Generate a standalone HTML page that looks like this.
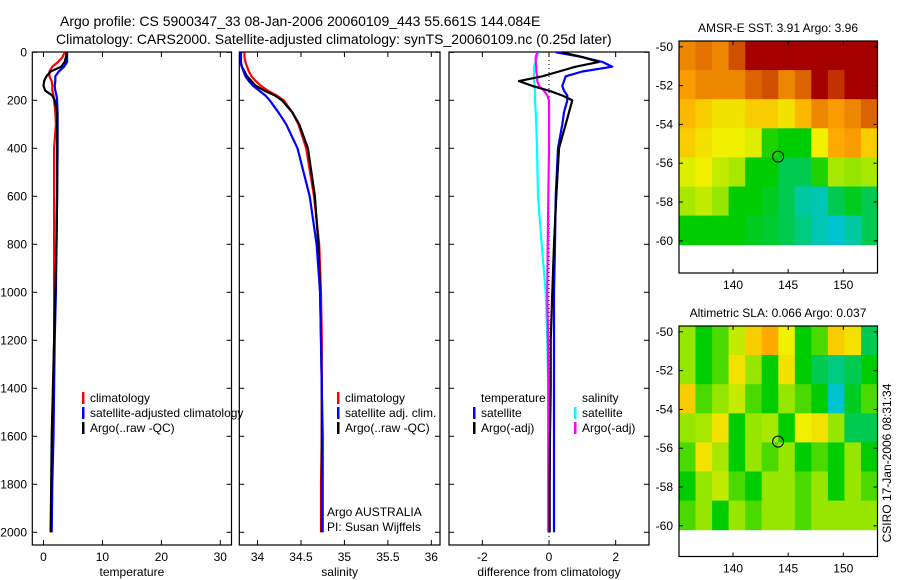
<!DOCTYPE html>
<html><head><meta charset="utf-8">
<style>
body{margin:0;background:#fff;}
svg{display:block;font-family:"Liberation Sans",sans-serif;}
text{fill:#000;}
</style></head>
<body>
<svg id="fig" width="900" height="580" viewBox="0 0 900 580" xmlns="http://www.w3.org/2000/svg">
<text x="60" y="26" font-size="14">Argo profile: CS 5900347_33 08-Jan-2006 20060109_443 55.661S 144.084E</text>
<text x="56" y="44" font-size="14">Climatology: CARS2000. Satellite-adjusted climatology: synTS_20060109.nc (0.25d later)</text>
<g id="layer"></g>
</svg>
<script>
const depths=[0,20,40,60,80,100,120,140,160,180,200,250,300,400,600,800,1000,1200,1400,1600,1800,2000];
const tempClim=[3.6,3.2,2.5,1.5,1.0,1.0,1.4,1.5,1.5,1.7,1.8,2.0,2.1,1.8,1.8,1.8,1.8,1.8,1.7,1.5,1.4,1.3];
const tempSat=[4.0,4.0,4.0,3.5,2.6,2.0,2.0,1.9,2.0,2.2,2.3,2.4,2.4,2.4,2.3,2.2,2.1,1.9,1.8,1.7,1.5,1.4];
const tempArgo=[3.9,3.8,3.6,3.0,1.2,0.5,0.1,0.0,0.3,1.5,1.9,2.3,2.3,2.3,2.3,2.2,2.0,1.8,1.6,1.4,1.3,1.2];
const salClim=[33.85,33.85,33.86,33.88,33.9,33.93,33.98,34.04,34.12,34.22,34.3,34.4,34.47,34.56,34.65,34.71,34.73,34.74,34.74,34.74,34.73,34.73];
const salSat=[33.81,33.81,33.81,33.82,33.84,33.86,33.9,33.95,34.02,34.09,34.14,34.24,34.33,34.46,34.6,34.68,34.72,34.73,34.74,34.75,34.75,34.75];
const salArgo=[33.8,33.8,33.8,33.82,33.85,33.88,33.93,33.98,34.08,34.2,34.28,34.4,34.48,34.58,34.66,34.7,34.72,34.73,34.74,34.74,34.74,34.74];
const diffTSat=[0.2,1.0,1.6,1.9,1.0,0.5,0.45,0.4,0.45,0.55,0.55,0.45,0.4,0.27,0.2,0.18,0.15,0.15,0.15,0.15,0.15,0.15];
const diffTArgo=[0.4,1.0,1.5,0.8,0.3,-0.2,-0.9,-0.5,0,0.4,0.7,0.6,0.5,0.3,0.22,0.15,0.1,0.05,0.05,0.03,0.02,0.02];
const diffSSat=[-0.33,-0.35,-0.4,-0.45,-0.45,-0.45,-0.45,-0.43,-0.42,-0.42,-0.42,-0.4,-0.38,-0.36,-0.33,-0.22,-0.1,-0.05,-0.02,-0.02,-0.02,-0.02];
const diffSArgo=[-0.35,-0.4,-0.4,-0.38,-0.38,-0.35,-0.35,-0.3,-0.15,-0.05,0,0,0,0,-0.02,-0.04,-0.05,-0.03,-0.02,-0.02,-0.02,-0.02];
const depthTicks=[0,200,400,600,800,1000,1200,1400,1600,1800,2000];
const tempTicks=[0,10,20,30];
const salTicks=[34,34.5,35,35.5,36];
const diffTicks=[-2,0,2];
const lonTicks=[140,145,150];
const latTicks=[-50,-52,-54,-56,-58,-60];
const sstGrid=[
[0.85,0.88,0.85,0.92,1,1,1,1,1,1,1,1],
[0.82,0.85,0.85,0.85,0.9,0.92,0.85,0.9,1,0.95,1,1],
[0.78,0.75,0.72,0.72,0.75,0.75,0.72,0.78,0.85,0.82,0.85,0.9],
[0.75,0.72,0.7,0.7,0.68,0.52,0.5,0.5,0.7,0.8,0.82,0.75],
[0.68,0.7,0.65,0.62,0.5,0.5,0.45,0.45,0.52,0.62,0.6,0.62],
[0.62,0.65,0.6,0.5,0.5,0.48,0.45,0.4,0.38,0.45,0.48,0.45],
[0.5,0.5,0.5,0.5,0.48,0.47,0.45,0.42,0.38,0.35,0.4,0.45]];
const slaGrid=[
[0.6,0.5,0.55,0.65,0.75,0.8,0.7,0.5,0.55,0.75,0.72,0.45],
[0.6,0.5,0.55,0.72,0.6,0.5,0.72,0.5,0.45,0.42,0.45,0.5],
[0.75,0.55,0.6,0.65,0.55,0.5,0.6,0.55,0.5,0.35,0.48,0.55],
[0.6,0.62,0.72,0.5,0.6,0.62,0.5,0.7,0.72,0.6,0.45,0.45],
[0.55,0.72,0.62,0.5,0.6,0.55,0.6,0.5,0.55,0.5,0.6,0.5],
[0.5,0.6,0.65,0.55,0.5,0.6,0.6,0.55,0.6,0.5,0.6,0.55],
[0.55,0.6,0.5,0.6,0.55,0.6,0.6,0.55,0.6,0.6,0.6,0.6]];
const argoLon=144.084, argoLat=-55.661;

const NS="http://www.w3.org/2000/svg";
const L=document.getElementById('layer');
function mk(tag,attrs,parent){const e=document.createElementNS(NS,tag);for(const k in attrs)e.setAttribute(k,attrs[k]);(parent||L).appendChild(e);return e;}
function txt(x,y,s,size,anchor,parent){const t=mk('text',{x:x,y:y,'font-size':size||12,'text-anchor':anchor||'start'},parent);t.textContent=s;return t;}

const yTop=52.3, yPer=0.24;
function yD(d){return yTop+d*yPer;}
const panels=[
 {name:'temperature',x0:32.3,x1:231.5,v0:-1.9,v1:31.9,ticks:tempTicks,label:'temperature'},
 {name:'salinity',x0:239.3,x1:440,v0:33.79,v1:36.1,ticks:salTicks,label:'salinity'},
 {name:'difference',x0:449,x1:649,v0:-3,v1:3,ticks:diffTicks,label:'difference from climatology'}];
const boxTop=52, boxBot=545;
function xf(p){return v=>p.x0+(v-p.v0)/(p.v1-p.v0)*(p.x1-p.x0);}

function profile(p,vals,color,name,g){
  const X=xf(p);
  const pts=depths.map((d,i)=>X(vals[i]).toFixed(1)+','+yD(d).toFixed(1));
  const pl=mk('polyline',{points:pts.join(' '),fill:'none',stroke:color,'stroke-width':2.2,'stroke-linejoin':'round'},g);
  
  
}

panels.forEach((p,pi)=>{
  const g=mk('g',{});
  
  
  const X=xf(p);
  mk('rect',{x:p.x0,y:boxTop,width:p.x1-p.x0,height:boxBot-boxTop,fill:'none',stroke:'#000','stroke-width':1.2},g);
  p.ticks.forEach(t=>{const x=X(t);
    mk('line',{x1:x,y1:boxBot,x2:x,y2:boxBot-5,stroke:'#000'},g);
    mk('line',{x1:x,y1:boxTop,x2:x,y2:boxTop+5,stroke:'#000'},g);
    const tt=txt(x,561,String(t),12,'middle',g);
    
    
  });
  depthTicks.forEach(d=>{const y=yD(d);
    mk('line',{x1:p.x0,y1:y,x2:p.x0+5,y2:y,stroke:'#000'},g);
    mk('line',{x1:p.x1,y1:y,x2:p.x1-5,y2:y,stroke:'#000'},g);
    if(pi===0){const tt=txt(27,y+4,String(d),12,'end',g);
      
      }
  });
  const xl=txt((p.x0+p.x1)/2,576,p.label,12,'middle',g);
  
  
  if(pi===0){profile(p,tempClim,'#f00','temp-climatology-line',g);profile(p,tempSat,'#00f','temp-satellite-line',g);profile(p,tempArgo,'#000','temp-argo-line',g);}
  if(pi===1){profile(p,salClim,'#f00','sal-climatology-line',g);profile(p,salArgo,'#000','sal-argo-line',g);profile(p,salSat,'#00f','sal-satellite-line',g);}
  if(pi===2){
    const zx=X(0);
    mk('line',{x1:zx,y1:boxTop,x2:zx,y2:boxBot,stroke:'#000','stroke-dasharray':'1,3'},g);
    profile(p,diffSSat,'#0ff','diff-sal-satellite-line',g);profile(p,diffSArgo,'#f0f','diff-sal-argo-line',g);
    profile(p,diffTSat,'#00f','diff-temp-satellite-line',g);profile(p,diffTArgo,'#000','diff-temp-argo-line',g);}
});

function legendItem(x,y,color,label,name){
  const g=mk('g',{});
  
  
  if(color)mk('rect',{x:x,y:y-10,width:2.5,height:12,fill:color},g);
  txt(x+8,y,label,12,'start',g);
}
legendItem(82,402,'#f00','climatology','legend-entry-climatology');
legendItem(82,417,'#00f','satellite-adjusted climatology','legend-entry-satellite');
legendItem(82,432,'#000','Argo(..raw -QC)','legend-entry-argo');
legendItem(337,402,'#f00','climatology','legend-entry-sal-climatology');
legendItem(337,417,'#00f','satellite adj. clim.','legend-entry-sal-satellite');
legendItem(337,432,'#000','Argo(..raw -QC)','legend-entry-sal-argo');
legendItem(319,516,null,'Argo AUSTRALIA','credit-argo-australia');
legendItem(319,531,null,'PI: Susan Wijffels','credit-pi');
legendItem(473,402,null,'temperature','legend-heading-temperature');
legendItem(574,402,null,'salinity','legend-heading-salinity');
legendItem(473,417,'#00f','satellite','legend-entry-diff-temp-satellite');
legendItem(473,432,'#000','Argo(-adj)','legend-entry-diff-temp-argo');
legendItem(574,417,'#0ff','satellite','legend-entry-diff-sal-satellite');
legendItem(574,432,'#f0f','Argo(-adj)','legend-entry-diff-sal-argo');

const stops=[[0,[0,0,200]],[0.3,[0,190,255]],[0.4,[0,200,160]],[0.5,[0,205,0]],[0.6,[150,230,0]],[0.7,[240,240,0]],[0.8,[255,170,0]],[0.9,[220,100,0]],[1,[165,0,0]]];
function cmap(v){for(let i=1;i<stops.length;i++){if(v<=stops[i][0]){const a=stops[i-1],b=stops[i];const t=(v-a[0])/(b[0]-a[0]);const c=a[1].map((q,k)=>Math.round(q+(b[1][k]-q)*t));return 'rgb('+c.join(',')+')';}}return 'rgb(165,0,0)';}

const lonMin=135.1, lonMax=153.1, latDataTop=-49.7, latDataBot=-60.2;
function drawMap(grid,top,yPerDeg,boxBottom,title,name){
  const g=mk('g',{});
  
  
  const x0=679,x1=877.5;
  const lx=lon=>x0+(lon-lonMin)/(lonMax-lonMin)*(x1-x0);
  const ly=lat=>top+(latDataTop-lat)*yPerDeg;
  const rows=grid.length, cols=grid[0].length;
  const dLat=(latDataTop-latDataBot)/rows, dLon=(lonMax-lonMin)/cols;
  for(let r=0;r<rows;r++)for(let c=0;c<cols;c++){
    const xa=lx(lonMin+c*dLon), xb=lx(lonMin+(c+1)*dLon);
    const ya=ly(latDataTop-r*dLat), yb=ly(latDataTop-(r+1)*dLat);
    const cell=mk('rect',{x:xa.toFixed(1),y:ya.toFixed(1),width:(xb-xa+0.5).toFixed(1),height:(yb-ya+0.5).toFixed(1),fill:cmap(grid[r][c])},g);
    
    
  }
  mk('rect',{x:x0,y:top,width:x1-x0,height:boxBottom-top,fill:'none',stroke:'#000','stroke-width':1.2},g);
  latTicks.forEach(lat=>{const y=ly(lat);
    mk('line',{x1:x0,y1:y,x2:x0+4,y2:y,stroke:'#000'},g);
    mk('line',{x1:x1,y1:y,x2:x1-4,y2:y,stroke:'#000'},g);
    txt(673,y+4,String(lat),12,'end',g);});
  lonTicks.forEach(lon=>{const x=lx(lon);
    mk('line',{x1:x,y1:top,x2:x,y2:top+4,stroke:'#000'},g);
    mk('line',{x1:x,y1:boxBottom,x2:x,y2:boxBottom-4,stroke:'#000'},g);
    txt(x,boxBottom+16,String(lon),12,'middle',g);});
  const c=mk('circle',{cx:lx(argoLon),cy:ly(argoLat),r:5.5,fill:'none',stroke:'#000','stroke-width':1},g);
  
  
  const t=txt(778,top-9,title,12,'middle',g);
  
  
}
drawMap(sstGrid,41,19.4,273,'AMSR-E SST: 3.91 Argo: 3.96','sst-map');
drawMap(slaGrid,326,19.4,556.5,'Altimetric SLA: 0.066 Argo: 0.037','sla-map');
const stamp=txt(0,0,'CSIRO 17-Jan-2006 08:31:34',12,'middle');
stamp.setAttribute('transform','translate(891,463) rotate(-90)');


</script>
</body></html>
